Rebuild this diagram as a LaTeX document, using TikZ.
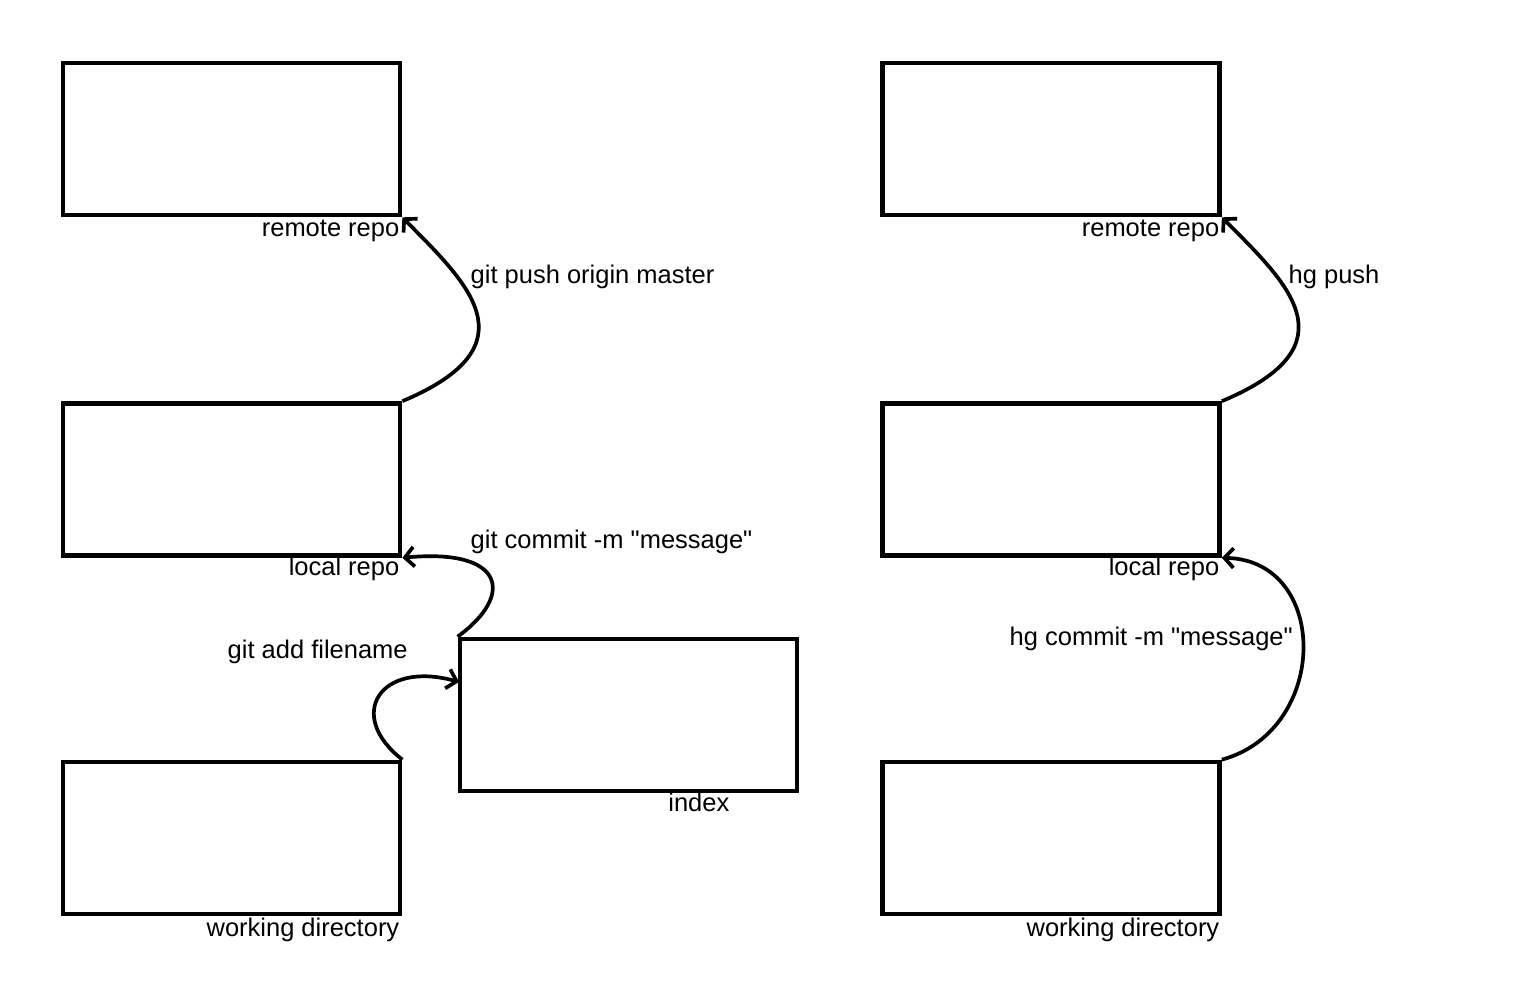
\documentclass[tikz,border=0pt]{standalone}
\usepackage{fontspec}
\setmainfont{Liberation Sans}
\usetikzlibrary{arrows.meta}
\begin{document}
\begin{tikzpicture}[x=0.01cm, y=-0.01cm,
		font=\fontsize{7.25}{8.7}\selectfont,
		repobox/.style={draw, line width=1.3pt, inner sep=0pt, minimum width=3.37cm, minimum height=1.52cm},
		boxlabel/.style={anchor=base east, inner sep=0pt},
		cmdlabel/.style={anchor=base west, inner sep=0pt},
		flow/.style={line width=1.05pt, -{Straight Barb[length=2.6pt, width=5.6pt]}}]
		\useasboundingbox (0,0) rectangle (1520,988);
		
		% git
		\node[repobox] (gitremote) at (231.5,139) {};
		\node[repobox] (gitlocal) at (231.5,479.5) {};
		\node[repobox] (gitwork) at (231.5,838) {};
		\node[repobox] (gitindex) at (628.5,715) {};
		
		\node[boxlabel] (gitremotelbl) at (400,237) {remote repo};
		\node[boxlabel] (gitlocallbl) at (400,576) {local repo};
		\node[boxlabel] (gitworklbl) at (400,936) {working directory};
		\node[boxlabel] (gitindexlbl) at (730,811) {index};
		
		\draw[flow] (gitlocal.north east) .. controls (536,345) and (466,282) .. (gitremote.south east);
		\draw[flow] (gitindex.north west) .. controls (515,595) and (505,548) .. (gitlocal.south east);
		\draw[flow] (gitwork.north east) .. controls (345,715) and (380,660) .. (459,682);
		
		\node[cmdlabel] (gitpush) at (470,284) {git push origin master};
		\node[cmdlabel] (gitcommit) at (470,549) {git commit -m \textquotedbl message\textquotedbl};
		\node[cmdlabel] (gitadd) at (227,659) {git add filename};
		
		% hg
		\node[repobox] (hgremote) at (1051,139) {};
		\node[repobox] (hglocal) at (1051,479.5) {};
		\node[repobox] (hgwork) at (1051,838) {};
		
		\node[boxlabel] (hgremotelbl) at (1220,237) {remote repo};
		\node[boxlabel] (hglocallbl) at (1220,576) {local repo};
		\node[boxlabel] (hgworklbl) at (1220,936) {working directory};
		
		\draw[flow] (hglocal.north east) .. controls (1356,345) and (1286,282) .. (hgremote.south east);
		\draw[flow] (hgwork.north east) .. controls (1330,730) and (1330,560) .. (hglocal.south east);
		
		\node[cmdlabel] (hgpush) at (1288,284) {hg push};
		\node[cmdlabel] (hgcommit) at (1009,646) {hg commit -m \textquotedbl message\textquotedbl};
	\end{tikzpicture}
\end{document}
